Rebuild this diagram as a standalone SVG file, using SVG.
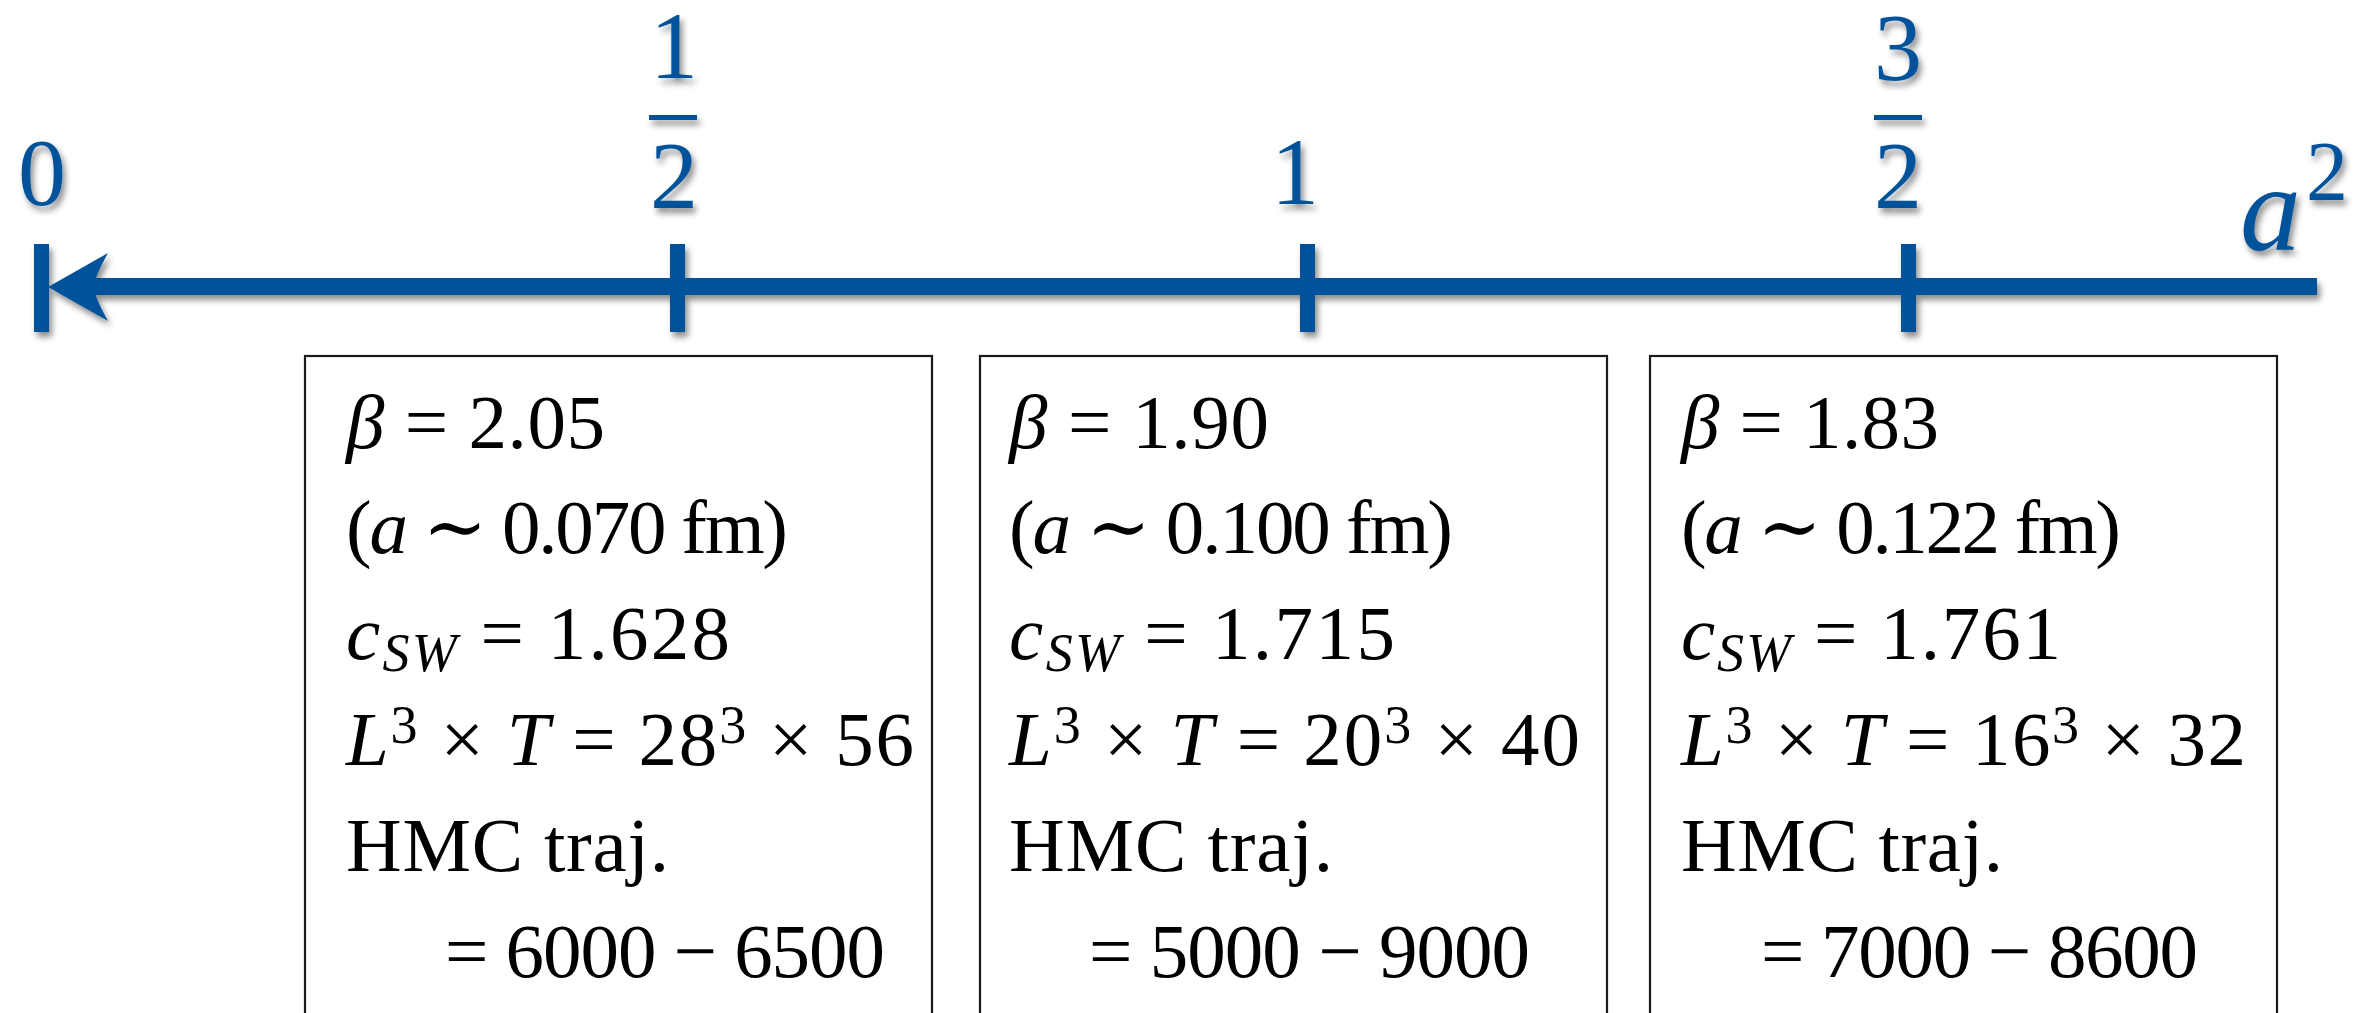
<svg xmlns="http://www.w3.org/2000/svg" width="2374" height="1013" viewBox="0 0 2374 1013">
<style>
.lbl{font-family:"Liberation Serif","DejaVu Serif",serif;fill:#03539b;font-size:96px;text-anchor:middle}
.ax{fill:#03539b}
.box{fill:#fff;stroke:#1a1a1a;stroke-width:2.2}
.t{font-family:"Liberation Serif","DejaVu Serif",serif;font-size:77px;fill:#000}
.i{font-style:italic}
.sub{font-size:54px;font-style:italic}
.sup{font-size:54px}
</style>
<defs>
<filter id="sh" x="-20%" y="-20%" width="140%" height="160%">
<feDropShadow dx="3" dy="5" stdDeviation="3" flood-color="#000" flood-opacity="0.45"/>
</filter>
</defs>
<rect width="2374" height="1013" fill="#fff"/>
<g id="connectors" filter="url(#sh)">
<rect class="ax" x="92" y="278" width="2225" height="17"/>
<path class="ax" d="M48,287 L108,253 Q94,278 94,287 Q94,296 108,321 Z"/>
<rect class="ax" x="34" y="244" width="15" height="88"/>
<rect class="ax" x="670" y="244" width="15" height="88"/>
<rect class="ax" x="1300" y="244" width="15" height="88"/>
<rect class="ax" x="1901" y="244" width="15" height="88"/>
</g>
<g id="axis-labels" filter="url(#sh)">
<g id="lbl-0"><text class="lbl" x="42" y="205">0</text></g>
<g id="lbl-half"><text class="lbl" x="674" y="78">1</text><rect class="ax" x="649" y="115" width="48" height="5"/><text class="lbl" x="674" y="208">2</text></g>
<g id="lbl-1"><text class="lbl" x="1295" y="204">1</text></g>
<g id="lbl-threehalf"><text class="lbl" x="1898" y="80">3</text><rect class="ax" x="1874" y="115" width="48" height="5"/><text class="lbl" x="1898" y="208">2</text></g>
<g id="lbl-a2"><text class="lbl" x="2240" y="250" style="text-anchor:start;font-size:122px;font-style:italic">a</text><text class="lbl" x="2306" y="200" style="text-anchor:start;font-size:84px">2</text></g>
</g>
<g id="box1">
<rect class="box" x="305" y="356" width="627" height="680"/>
<text class="t" x="346" y="448" textLength="259" lengthAdjust="spacing"><tspan class="i">β</tspan> = 2.05</text>
<text class="t" x="346" y="553" textLength="442" lengthAdjust="spacing">(<tspan class="i">a</tspan> ∼ 0.070 fm)</text>
<text class="t" x="346" y="659" textLength="384" lengthAdjust="spacing"><tspan class="i">c</tspan><tspan class="sub" dy="12">SW</tspan><tspan dy="-12"> = 1.628</tspan></text>
<text class="t" x="346" y="765" textLength="568" lengthAdjust="spacing"><tspan class="i">L</tspan><tspan class="sup" dy="-22">3</tspan><tspan dy="22"> × </tspan><tspan class="i">T</tspan> = 28<tspan class="sup" dy="-22">3</tspan><tspan dy="22"> × 56</tspan></text>
<text class="t" x="346" y="871" textLength="323" lengthAdjust="spacing">HMC traj.</text>
<text class="t" x="445" y="977" textLength="440" lengthAdjust="spacing">= 6000 − 6500</text>
</g>
<g id="box2">
<rect class="box" x="980" y="356" width="627" height="680"/>
<text class="t" x="1009" y="448" textLength="260" lengthAdjust="spacing"><tspan class="i">β</tspan> = 1.90</text>
<text class="t" x="1009" y="553" textLength="444" lengthAdjust="spacing">(<tspan class="i">a</tspan> ∼ 0.100 fm)</text>
<text class="t" x="1009" y="659" textLength="386" lengthAdjust="spacing"><tspan class="i">c</tspan><tspan class="sub" dy="12">SW</tspan><tspan dy="-12"> = 1.715</tspan></text>
<text class="t" x="1009" y="765" textLength="571" lengthAdjust="spacing"><tspan class="i">L</tspan><tspan class="sup" dy="-22">3</tspan><tspan dy="22"> × </tspan><tspan class="i">T</tspan> = 20<tspan class="sup" dy="-22">3</tspan><tspan dy="22"> × 40</tspan></text>
<text class="t" x="1009" y="871" textLength="324" lengthAdjust="spacing">HMC traj.</text>
<text class="t" x="1089" y="977" textLength="441" lengthAdjust="spacing">= 5000 − 9000</text>
</g>
<g id="box3">
<rect class="box" x="1650" y="356" width="627" height="680"/>
<text class="t" x="1681" y="448" textLength="258" lengthAdjust="spacing"><tspan class="i">β</tspan> = 1.83</text>
<text class="t" x="1681" y="553" textLength="440" lengthAdjust="spacing">(<tspan class="i">a</tspan> ∼ 0.122 fm)</text>
<text class="t" x="1681" y="659" textLength="380" lengthAdjust="spacing"><tspan class="i">c</tspan><tspan class="sub" dy="12">SW</tspan><tspan dy="-12"> = 1.761</tspan></text>
<text class="t" x="1681" y="765" textLength="565" lengthAdjust="spacing"><tspan class="i">L</tspan><tspan class="sup" dy="-22">3</tspan><tspan dy="22"> × </tspan><tspan class="i">T</tspan> = 16<tspan class="sup" dy="-22">3</tspan><tspan dy="22"> × 32</tspan></text>
<text class="t" x="1681" y="871" textLength="322" lengthAdjust="spacing">HMC traj.</text>
<text class="t" x="1761" y="977" textLength="437" lengthAdjust="spacing">= 7000 − 8600</text>
</g>
</svg>
